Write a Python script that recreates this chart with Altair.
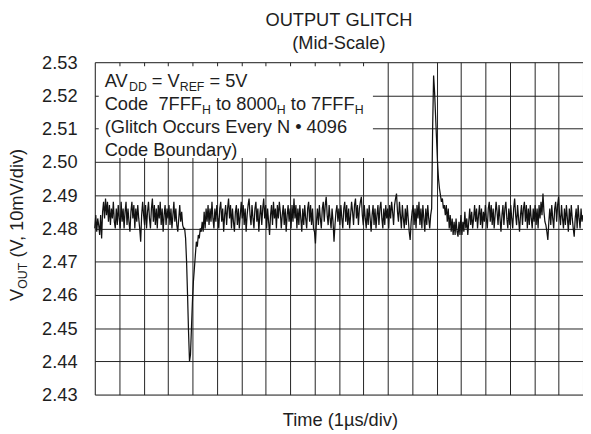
import altair as alt
import pandas as pd

# ---------------- data ----------------
T_STEP_US = 0.04  # scope sample interval (µs)
# VOUT samples in mV, one every 0.04 µs from 0 to 20 µs
vout_mV = [
    # 0-1 µs
    2480, 2484, 2479, 2483, 2481, 2478, 2484, 2477, 2485, 2488, 2483, 2489, 2484,
    2488, 2482, 2487, 2481, 2486, 2483, 2488, 2482, 2480, 2486, 2481, 2487,
    # 1-2 µs
    2483, 2480, 2488, 2482, 2486, 2480, 2485, 2488, 2481, 2486, 2482, 2479, 2485,
    2488, 2483, 2487, 2480, 2486, 2482, 2487, 2483, 2480, 2476, 2484, 2488,
    # 2-3 µs
    2484, 2481, 2487, 2480, 2485, 2488, 2483, 2480, 2486, 2489, 2482, 2487, 2481,
    2486, 2480, 2487, 2483, 2488, 2481, 2486, 2479, 2484, 2487, 2481, 2486,
    # 3-3.68 µs
    2483, 2487, 2481, 2486, 2480, 2484, 2488, 2482, 2486, 2481, 2479, 2483, 2487,
    2482, 2485, 2481, 2480,
    # negative glitch 3.68-4.36 µs
    2480, 2477, 2470, 2460, 2449, 2440, 2442, 2450, 2458, 2464, 2468, 2472, 2476,
    2474.5, 2478, 2477, 2480, 2479,
    # 4.4-5 µs
    2482, 2479, 2485, 2480, 2486, 2482, 2487, 2481, 2486, 2482, 2488, 2483, 2480,
    2486, 2482,
    # 5-6 µs
    2487, 2483, 2480, 2486, 2488, 2482, 2486, 2479, 2484, 2487, 2481, 2486, 2489,
    2483, 2487, 2480, 2486, 2482, 2479, 2485, 2487, 2481, 2486, 2480, 2484,
    # 6-7 µs
    2488, 2483, 2487, 2481, 2486, 2479, 2484, 2487, 2489, 2484, 2481, 2487, 2483,
    2480, 2486, 2488, 2482, 2486, 2479, 2484, 2487, 2481, 2486, 2489, 2483,
    # 7-8 µs
    2487, 2480, 2486, 2482, 2478, 2484, 2487, 2481, 2488, 2483, 2486, 2480, 2487,
    2483, 2488, 2485, 2480, 2484, 2487, 2481, 2486, 2479, 2484, 2487, 2482,
    # 8-9 µs
    2486, 2480, 2487, 2482, 2489, 2483, 2487, 2480, 2486, 2481, 2487, 2483, 2479,
    2486, 2481, 2487, 2483, 2480, 2486, 2488, 2482, 2487, 2481, 2486, 2480,
    # 9-10 µs
    2479, 2475.5, 2482, 2486, 2481, 2487, 2483, 2480, 2486, 2488, 2482, 2487, 2489.5,
    2484, 2481, 2487, 2483, 2480, 2486, 2482, 2476, 2481, 2485, 2487, 2482,
    # 10-11 µs
    2486, 2481, 2487, 2483, 2480, 2486, 2488, 2482, 2487, 2481, 2486, 2480, 2484,
    2488, 2485, 2481, 2487, 2489, 2483, 2487, 2481, 2486, 2488, 2489.5, 2484,
    # 11-12 µs
    2481, 2487, 2483, 2480, 2486, 2481, 2487, 2483, 2479, 2484, 2487, 2481, 2486,
    2480, 2484, 2487, 2481, 2486, 2488, 2483, 2480, 2486, 2481, 2487, 2483,
    # 12-13 µs
    2486, 2480, 2487, 2483, 2488, 2485, 2481, 2487, 2489, 2490.5, 2485, 2482, 2488,
    2484, 2480, 2487, 2483, 2480, 2486, 2481, 2487, 2483, 2479, 2476.5, 2482,
    # 13-13.8 µs
    2485, 2487, 2481, 2486, 2480, 2487, 2483, 2488, 2481, 2486, 2480, 2487, 2483,
    2479, 2486, 2481, 2487, 2483, 2480, 2484,
    # positive glitch 13.8-14.36 µs
    2486, 2510, 2526, 2521, 2514, 2507, 2500, 2495, 2492, 2490, 2488, 2489, 2486,
    2487, 2484,
    # 14.4-15 µs
    2487, 2482, 2486, 2480, 2484, 2479, 2483, 2478, 2482, 2478, 2483, 2479, 2477.5,
    2482, 2478,
    # 15-16 µs
    2484, 2478, 2482, 2479, 2485, 2480, 2483, 2478, 2482, 2486, 2481, 2485, 2480,
    2483, 2487, 2482, 2486, 2480, 2484, 2487, 2481, 2486, 2480, 2485, 2482,
    # 16-17 µs
    2487, 2483, 2480, 2486, 2488, 2482, 2487, 2481, 2486, 2480, 2484, 2488, 2485,
    2481, 2487, 2483, 2479, 2484, 2487, 2481, 2486, 2488, 2483, 2480, 2486,
    # 17-18 µs
    2481, 2487, 2483, 2480, 2486, 2489, 2484, 2481, 2487, 2483, 2479, 2484, 2487,
    2481, 2486, 2488, 2482, 2487, 2480, 2486, 2481, 2487, 2483, 2480, 2486,
    # 18-19 µs
    2482, 2487, 2481, 2486, 2480, 2487, 2483, 2488, 2484, 2490.5, 2485, 2482, 2481,
    2479, 2476.5, 2482, 2486, 2481, 2487, 2483, 2480, 2486, 2488, 2482, 2487,
    # 19-20 µs
    2489.5, 2484, 2481, 2487, 2483, 2480, 2486, 2481, 2487, 2483, 2479, 2486, 2481,
    2487, 2483, 2480, 2477.5, 2483, 2486, 2480, 2487, 2483, 2480, 2486, 2482,
    2484,
]

Y_TICKS = [2.43, 2.44, 2.45, 2.46, 2.47, 2.48, 2.49, 2.50, 2.51, 2.52, 2.53]
X_DIVS = list(range(21))

TITLE_LINES = ["OUTPUT GLITCH", "(Mid-Scale)"]
X_TITLE = "Time (1µs/div)"
Y_TITLE = [("V", False), ("OUT", True), (" (V, 10mV/div)", False)]
NOTE_LINES = [
    [("AV", False), ("DD", True), (" = V", False), ("REF", True), (" = 5V", False)],
    [("Code  7FFF", False), ("H", True), (" to 8000", False), ("H", True),
     (" to 7FFF", False), ("H", True)],
    [("(Glitch Occurs Every N • 4096", False)],
    [("Code Boundary)", False)],
]

# ---------------- layout helpers ----------------
FONT = "Liberation Sans"
FS = 18.5
FS_SUB = 12.5
TXT = "#1e1e1e"
W, H = 495, 337

ARIAL = {" ": 278, "A": 667, "V": 667, "D": 722, "=": 584, "R": 722, "E": 667,
         "F": 611, "5": 556, "C": 722, "o": 556, "d": 556, "e": 556, "7": 556,
         "t": 278, "8": 556, "0": 556, "H": 722, "(": 333, ")": 333, "G": 778,
         "l": 222, "i": 222, "c": 500, "h": 556, "O": 778, "u": 556, "r": 333,
         "s": 500, "v": 500, "y": 500, "N": 722, "•": 350, "4": 556, "9": 556,
         "6": 556, "B": 667, "n": 556, "a": 556, "U": 722, "T": 611, ",": 278,
         "1": 556, "m": 833, "/": 278}


def text_width(s, fs):
    return sum(ARIAL.get(ch, 556) for ch in s) * fs / 1000.0


dummy = pd.DataFrame({"k": [0]})


def seg(text, px, py, fs, angle=0, align="left"):
    # non-breaking spaces so SVG keeps inner double spaces
    kw = dict(text=text.replace(" ", "\u00a0"), font=FONT, fontSize=fs,
              color=TXT, align=align, baseline="alphabetic")
    if angle:
        kw["angle"] = angle
    return alt.Chart(dummy).mark_text(**kw).encode(x=alt.value(px), y=alt.value(py))


def lead_space(s, fs):
    n = len(s) - len(s.lstrip(" "))
    return n * ARIAL[" "] * fs / 1000.0


df = pd.DataFrame({
    "t": [round(i * T_STEP_US, 2) for i in range(len(vout_mV))],
    "v": [m / 1000.0 for m in vout_mV],
})

trace = alt.Chart(df).mark_line(color="#111111", strokeWidth=1.25).encode(
    x=alt.X("t:Q", scale=alt.Scale(domain=[0, 20], nice=False, zero=False),
            axis=alt.Axis(values=X_DIVS, labels=False, ticks=False, domain=False,
                          title=None, grid=True, gridColor="#222222",
                          gridWidth=1, gridOpacity=1)),
    y=alt.Y("v:Q", scale=alt.Scale(domain=[2.43, 2.53], nice=False, zero=False),
            axis=alt.Axis(values=Y_TICKS, format=".2f", ticks=False, tickSize=0,
                          domain=False, labelPadding=18, labelFont=FONT,
                          labelFontSize=FS, labelColor=TXT, title=None,
                          grid=True, gridColor="#222222", gridWidth=1,
                          gridOpacity=1)),
)

box = alt.Chart(dummy).mark_rect(color="white").encode(
    x=alt.value(4), x2=alt.value(282), y=alt.value(4), y2=alt.value(97)
)

layers = [trace, box]

# note lines inside the box
baselines = [25, 48.5, 72, 95]
for line, by in zip(NOTE_LINES, baselines):
    x = 10.0
    for s, sub in line:
        fs = FS_SUB if sub else FS
        layers.append(seg(s.strip(" "), x + lead_space(s, fs),
                          by + (4 if sub else 0), fs))
        x += text_width(s, fs)

# title
layers.append(seg(TITLE_LINES[0], W / 2, -36.5, FS, align="center"))
layers.append(seg(TITLE_LINES[1], W / 2, -13, FS, align="center"))

# x axis title
layers.append(seg(X_TITLE, W / 2 + 1.5, 369, FS, align="center"))

# y axis title (rotated, reads bottom to top)
yy = 242.0
for s, sub in Y_TITLE:
    fs = FS_SUB if sub else FS
    layers.append(seg(s.strip(" "), -73 + (4 if sub else 0),
                      yy - lead_space(s, fs), fs, angle=270))
    yy -= text_width(s, fs)

chart = alt.layer(*layers).properties(
    width=W, height=H,
    padding={"left": 88, "top": 52, "right": 0, "bottom": 37},
    autosize=alt.AutoSizeParams(type="none"),
).configure_view(stroke="#111111", strokeWidth=2.2).configure(font=FONT)

chart.save("out.html", embed_options={"renderer": "svg", "actions": False})
